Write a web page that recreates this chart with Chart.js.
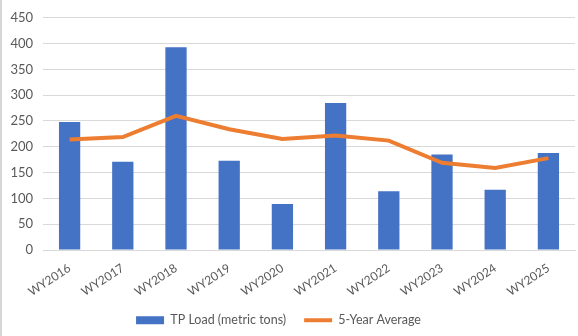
<!DOCTYPE html>
<html>
<head>
<meta charset="utf-8">
<script src="https://cdn.jsdelivr.net/npm/chart.js@4"></script>
<style>
  html, body { margin: 0; padding: 0; background: #fff; }
  #wrap { width: 578px; height: 336px; position: relative; box-sizing: border-box; border-left: 2px solid #d6d6d6; }
</style>
</head>
<body>
<div id="wrap"><canvas id="loadChart"></canvas></div>
<script>
const waterYears = ['WY2016', 'WY2017', 'WY2018', 'WY2019', 'WY2020', 'WY2021', 'WY2022', 'WY2023', 'WY2024', 'WY2025'];
const tpLoad = [248, 171, 393, 173, 89, 285, 114, 185, 117, 188];
const fiveYearAvg = [214, 219, 260, 234, 215, 222, 212, 169, 159, 178];
const yTicks = [0, 50, 100, 150, 200, 250, 300, 350, 400, 450];

const textColor = '#595959';
const fontFamily = 'Lato, "Liberation Sans", sans-serif';

// compact legend box, nudged a little left of centre
const legendTweak = {
    id: 'legendTweak',
    beforeLayout: function (chart) {
        const lg = chart.legend;
        if (lg && !lg._compact) {
            const fit = lg.fit;
            lg.fit = function () {
                fit.call(this);
                this.height = 40;
            };
            lg._compact = true;
        }
    },
    afterLayout: function (chart) {
        chart.legend.left -= 10;
        chart.legend.right -= 10;
    }
};

new Chart(document.getElementById('loadChart'), {
    type: 'bar',
    data: {
        labels: waterYears,
        datasets: [{
            type: 'bar',
            label: 'TP Load (metric tons)',
            data: tpLoad,
            backgroundColor: '#4472C4',
            borderWidth: 0,
            categoryPercentage: 1,
            barPercentage: 0.4,
            order: 2
        }, {
            type: 'line',
            label: '5-Year Average',
            data: fiveYearAvg,
            borderColor: '#ED7D31',
            backgroundColor: '#ED7D31',
            borderWidth: 4,
            pointRadius: 0,
            tension: 0,
            fill: false,
            order: 1
        }]
    },
    plugins: [legendTweak],
    options: {
        responsive: true,
        maintainAspectRatio: false,
        animation: false,
        layout: { padding: { top: 10, right: 3, left: 0, bottom: 0 } },
        plugins: {
            tooltip: { enabled: false },
            legend: {
                position: 'bottom',
                labels: {
                    color: textColor,
                    font: { family: fontFamily, size: 12.5 },
                    usePointStyle: true,
                    pointStyleWidth: 28,
                    boxHeight: 8,
                    padding: 18,
                    generateLabels: function (chart) {
                        const items = Chart.defaults.plugins.legend.labels.generateLabels(chart);
                        items.forEach(function (item) {
                            item.pointStyle = item.datasetIndex === 1 ? 'line' : 'rect';
                        });
                        return items;
                    },
                    // keep the bar series first even though the line is drawn on top
                    sort: function (a, b) { return a.datasetIndex - b.datasetIndex; }
                }
            }
        },
        scales: {
            x: {
                offset: true,
                grid: { display: false, offset: true },
                border: { color: '#d9d9d9' },
                ticks: {
                    color: textColor,
                    font: { family: fontFamily, size: 12 },
                    minRotation: 33,
                    maxRotation: 33,
                    padding: 3
                },
                afterFit: function (scale) { scale.height = 46; }
            },
            y: {
                min: 0,
                max: 450,
                afterBuildTicks: function (scale) {
                    scale.ticks = yTicks.map(function (v) { return { value: v }; });
                },
                grid: { color: '#d9d9d9', drawTicks: false },
                border: { display: false },
                ticks: {
                    color: textColor,
                    font: { family: fontFamily, size: 13 },
                    padding: 10
                },
                afterFit: function (scale) { scale.width = 41; }
            }
        }
    }
});
</script>
</body>
</html>
